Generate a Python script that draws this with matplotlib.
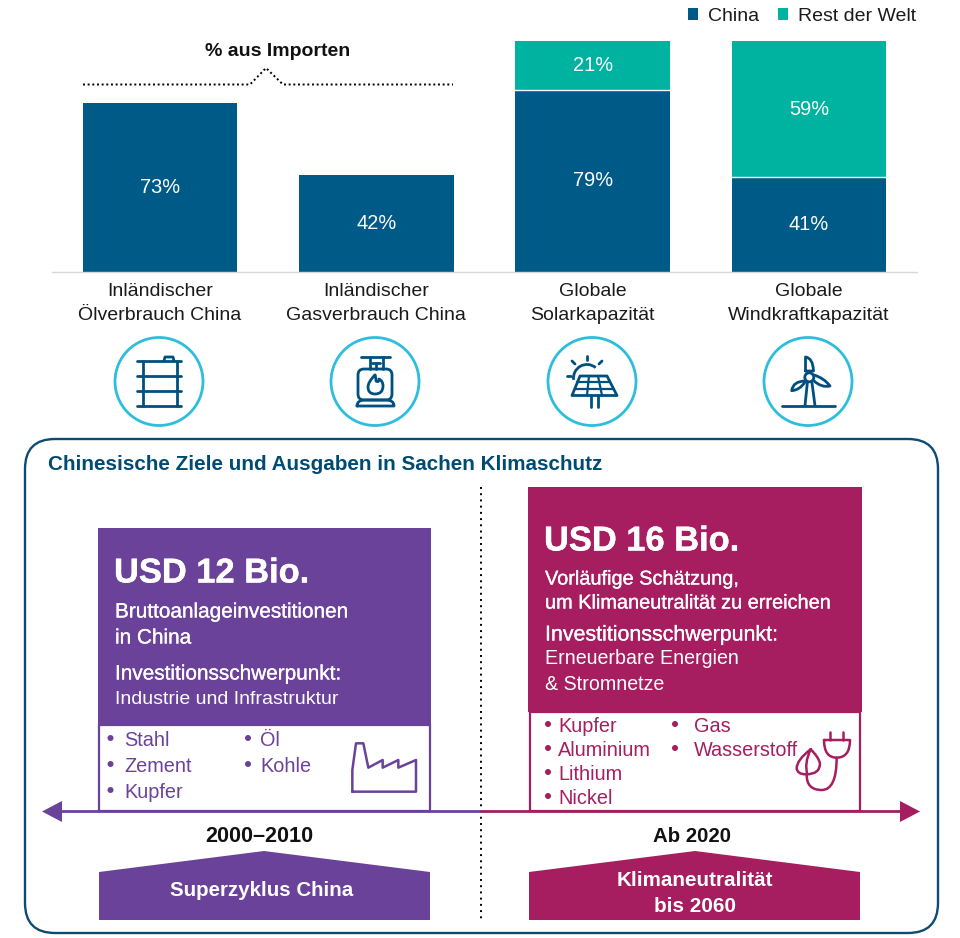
import numpy as np
import matplotlib
matplotlib.use("Agg")
import matplotlib.pyplot as plt
import matplotlib.patheffects as pe
from matplotlib.patches import Circle, FancyBboxPatch, PathPatch, Polygon, Rectangle, Arc
from matplotlib.path import Path

plt.rcParams['font.family'] = ['Liberation Sans', 'DejaVu Sans']

categories = ["Inländischer\nÖlverbrauch China", "Inländischer\nGasverbrauch China",
              "Globale\nSolarkapazität", "Globale\nWindkraftkapazität"]
china = [73, 42, 79, 41]
rest_world = [0, 0, 21, 59]
series_names = ["China", "Rest der Welt"]

NAVY = "#005A87"; TEAL = "#00B2A0"; PURPLE = "#6B4299"; MAGENTA = "#A61E5F"
CYAN = "#2CBEDC"; ICON = "#00507F"; BOX = "#0D4B73"; TITLE = "#004B73"; INK = "#1a1a1a"

W, H = 960, 938
fig = plt.figure(figsize=(W/100, H/100), dpi=100, facecolor="white")

# ---- bar chart ----
ax = fig.add_axes([52/W, 1-272/H, (917-52)/W, (272-41)/H])
x = np.arange(len(categories))
bw = 0.715
b1 = ax.bar(x, china, bw, color=NAVY, label=series_names[0], linewidth=0)
b2 = ax.bar(x, rest_world, bw, bottom=china, color=TEAL, label=series_names[1], linewidth=0)
ax.set_xlim(-0.5, 3.5); ax.set_ylim(0, 100)
ax.set_yticks([])
ax.set_xticks(x, categories, fontsize=14, color=INK, linespacing=1.55)
ax.tick_params(axis='x', length=0, pad=8)
for s in ['top', 'left', 'right']:
    ax.spines[s].set_visible(False)
ax.spines['bottom'].set_color("#D9D9D9"); ax.spines['bottom'].set_linewidth(1)
for i, (c, r) in enumerate(zip(china, rest_world)):
    ax.text(i, c/2, f"{c}%", ha='center', va='center', color='white', fontsize=14.4)
    if r:
        ax.text(i, c + r/2, f"{r}%", ha='center', va='center', color='white', fontsize=14.4)
        ax.plot([i-bw/2, i+bw/2], [c, c], color='white', lw=1)
fig.legend(handles=[b1, b2], labels=series_names, loc='upper right',
           bbox_to_anchor=(916/W, 1-8/H), ncol=2, frameon=False, fontsize=14,
           handlelength=0.52, handleheight=0.52, handletextpad=0.52, columnspacing=0.95,
           labelcolor=INK, borderpad=0, borderaxespad=0)

# ---- annotation layer in pixel coordinates ----
a = fig.add_axes([0, 0, 1, 1], facecolor='none')
a.set_xlim(0, W); a.set_ylim(H, 0); a.axis('off')

def T(x, y, s, size=14, color=INK, weight='normal', ha='left', stroke=0, **k):
    t = a.text(x, y+2, s, fontsize=size, color=color, fontweight=weight, ha=ha, va='center', **k)
    if stroke:
        t.set_path_effects([pe.withStroke(linewidth=stroke, foreground=color)])

def L(xs, ys, color=ICON, lw=2.0, **k):
    k.setdefault('solid_capstyle', 'round'); k.setdefault('solid_joinstyle', 'round')
    a.plot(xs, ys, color=color, lw=lw, **k)

def C(verts, codes, color=ICON, lw=2.0, fill='none'):
    a.add_patch(PathPatch(Path(verts, codes), fc=fill, ec=color, lw=lw, capstyle='round', joinstyle='round'))

M, LT, C3 = Path.MOVETO, Path.LINETO, Path.CURVE3

# imports bracket
T(278, 49, "% aus Importen", size=14, color="#111111", weight='bold', ha='center')
L([83, 250, 266, 283, 453], [84.5, 84.5, 68, 84.5, 84.5], color="black", lw=1.4, linestyle=(0, (1, 1.4)),
  dash_capstyle='butt')

# icon circles
for cx in (159, 375, 592, 808):
    a.add_patch(Circle((cx, 381.5), 44, fc='white', ec=CYAN, lw=2.0))

# barrel
for yy in (361, 376, 391, 406):
    L([137, 181], [yy, yy])
L([143, 143], [361, 406]); L([177, 177], [361, 406])
L([164, 165, 173, 174], [361, 357, 357, 361])

# gas bottle
L([361, 390], [357, 357])
L([369.5, 369.5], [357, 369]); L([382.5, 382.5], [357, 369])
L([372, 380], [363.5, 363.5]); L([376, 376], [363.5, 369])
a.add_patch(FancyBboxPatch((358+6, 369+6), 34-12, 31-12, boxstyle="round,pad=6", fc='none', ec=ICON, lw=2.0))
C([(375, 375), (368, 382), (368, 387), (368, 394), (375, 394), (383, 394), (383, 386), (383, 381), (379, 379), (379, 383), (376, 381), (376, 378), (375, 375)],
  [M, C3, C3, C3, C3, C3, C3, C3, C3, C3, C3, C3, C3])
C([(357, 406), (357, 400), (365, 400), (386, 400), (394, 400), (394, 406), (357, 406)],
  [M, C3, LT, LT, C3, C3, LT])

# solar panel
a.add_patch(Arc((587, 378), 27, 27, theta1=172, theta2=310, ec=ICON, lw=2.0))
for p, q in [((587, 356), (587, 360)), ((572, 361), (575, 364)), ((602, 361), (599, 364)), ((567, 376), (571, 376))]:
    L([p[0], q[0]], [p[1], q[1]])
a.add_patch(Polygon([(580, 376), (607, 376), (617, 395.5), (572, 395.5)], closed=True, fc='none', ec=ICON, lw=2.0, joinstyle='round'))
for t in (1/3, 2/3):
    L([580+27*t, 572+45*t], [376, 395.5], lw=1.6)
for t in (1/3, 2/3):
    yy = 376 + t*19.5
    L([580-8*t, 607+10*t], [yy, yy], lw=1.6)
L([591, 591], [395.5, 407]); L([598, 598], [395.5, 407])

# wind turbine
L([782, 835], [405.7, 405.7])
a.add_patch(Circle((809.3, 377.3), 4.5, fc='none', ec=ICON, lw=2.0))
L([805, 807.3], [405.7, 383]); L([815, 812], [405.7, 383])
C([(805.5, 371), (805.5, 357), (813, 358), (813.5, 371), (805.5, 371)], [M, LT, C3, C3, LT])
C([(805.5, 381), (793, 381), (791.7, 390.7), (800, 390), (805, 382)], [M, C3, C3, C3, C3])
C([(814, 375), (824, 378), (830, 386), (822, 388), (814, 381)], [M, C3, C3, C3, C3])

# climate frame
a.add_patch(FancyBboxPatch((25+30, 439+30), 913-60, 494-60, boxstyle="round,pad=30,rounding_size=30",
                           fc='none', ec=BOX, lw=1.7))
T(48, 463, "Chinesische Ziele und Ausgaben in Sachen Klimaschutz", size=14.85, color=TITLE, weight='bold')
L([481, 481], [487, 921], color="black", lw=1.4, linestyle=(0, (1, 2.2)), dash_capstyle='butt')

# purple panel
a.add_patch(Rectangle((99, 725), 331, 86, fc='white', ec=PURPLE, lw=1.6))
a.add_patch(Rectangle((98, 528), 333, 197, fc=PURPLE, lw=0))
T(114, 572, "USD 12 Bio.", size=24.8, color='white', weight='bold', stroke=0.3)
T(115, 610, "Bruttoanlageinvestitionen", size=14.95, color='white', stroke=0.2)
T(115, 636, "in China", size=14.95, color='white', stroke=0.2)
T(115, 672, "Investitionsschwerpunkt:", size=14.95, color='white', stroke=0.2)
T(115, 698, "Industrie und Infrastruktur", size=14.0, color='white')
for bx, tx, yy, s in [(110.5, 124, 739, "Stahl"), (110.5, 124, 765, "Zement"), (110.5, 124, 791, "Kupfer"),
                      (248, 260, 739, "Öl"), (248, 260, 765, "Kohle")]:
    a.add_patch(Circle((bx, yy-1), 3, fc=PURPLE, lw=0))
    T(tx, yy, s, size=14.3, color=PURPLE)
pts = [(787, 230), (787, 165), (798, 85), (820, 85), (835, 158), (878, 135), (878, 158), (925, 135), (925, 158), (978, 135), (978, 230), (787, 230)]
L([p[0]/3+90 for p in pts], [p[1]/3+715 for p in pts], color=PURPLE, lw=1.8)

# magenta panel
a.add_patch(Rectangle((530, 712), 330, 99, fc='white', ec=MAGENTA, lw=1.6))
a.add_patch(Rectangle((528, 487), 334, 225, fc=MAGENTA, lw=0))
T(544, 540, "USD 16 Bio.", size=24.8, color='white', weight='bold', stroke=0.3)
T(545, 577, "Vorläufige Schätzung,", size=14.35, color='white', stroke=0.2)
T(545, 601, "um Klimaneutralität zu erreichen", size=14.35, color='white', stroke=0.2)
T(545, 633, "Investitionsschwerpunkt:", size=15.4, color='white', stroke=0.2)
T(545, 657, "Erneuerbare Energien", size=14.1, color='white')
T(545, 683, "& Stromnetze", size=14.1, color='white')
for bx, tx, yy, s in [(548, 558, 725, "Kupfer"), (548, 558, 749, "Aluminium"), (548, 558, 773, "Lithium"), (548, 558, 797, "Nickel"),
                      (675, 694, 725, "Gas"), (675, 694, 749, "Wasserstoff")]:
    a.add_patch(Circle((bx, yy-1), 3, fc=MAGENTA, lw=0))
    T(tx, yy, s, size=14.3, color=MAGENTA)
# plug and leaf icon
ox, oy = 520, 705
def Z(*p):
    return [(u/3+ox, v/3+oy) for u, v in p]
C(Z((912, 105), (990, 105), (990, 105), (990, 158), (950, 158), (912, 158), (912, 105)), [M, LT, LT, C3, C3, C3, C3], color=MAGENTA, lw=1.8)
for px in (930, 970):
    L([px/3+ox]*2, [80/3+oy, 105/3+oy], color=MAGENTA, lw=1.8)
C(Z((950, 158), (950, 255), (905, 255), (860, 255), (860, 210)), [M, C3, C3, C3, C3], color=MAGENTA, lw=1.8)
C(Z((872, 133), (830, 165), (830, 190), (832, 208), (858, 208), (900, 208), (900, 175), (895, 155), (872, 133)), [M, C3, C3, C3, C3, C3, C3, C3, C3], color=MAGENTA, lw=1.8)
C(Z((872, 133), (852, 175), (862, 208)), [M, C3, C3], color=MAGENTA, lw=1.8)

# timeline
L([60, 481], [811.5, 811.5], color=PURPLE, lw=2.0, solid_capstyle='butt')
L([481, 902], [811.5, 811.5], color=MAGENTA, lw=2.0, solid_capstyle='butt')
a.add_patch(Polygon([(42, 811.5), (62, 801), (62, 822)], closed=True, fc=PURPLE, lw=0))
a.add_patch(Polygon([(920, 811.5), (900, 801), (900, 822)], closed=True, fc=MAGENTA, lw=0))
T(259, 834, "2000–2010", size=15.6, color="#111111", weight='bold', ha='center')
T(692, 834, "Ab 2020", size=14.7, color="#111111", weight='bold', ha='center')

# pentagons
a.add_patch(Polygon([(99, 872), (264, 851), (430, 872), (430, 920), (99, 920)], closed=True, fc=PURPLE, lw=0))
a.add_patch(Polygon([(529, 872), (695, 851), (860, 872), (860, 920), (529, 920)], closed=True, fc=MAGENTA, lw=0))
T(262, 889, "Superzyklus China", size=14.8, color='white', weight='bold', ha='center')
T(695, 879, "Klimaneutralität", size=14.9, color='white', weight='bold', ha='center')
T(695, 905, "bis 2060", size=14.9, color='white', weight='bold', ha='center')

fig.savefig("out.png", dpi=100, facecolor="white")
